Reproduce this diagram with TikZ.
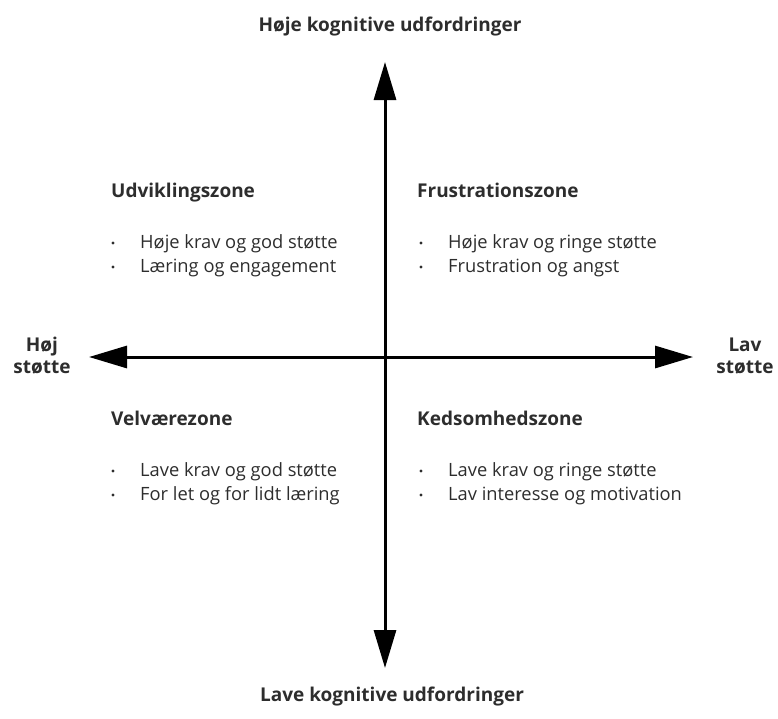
\documentclass[tikz,border=0pt]{standalone}
\usepackage{fontspec}
\setmainfont{Open Sans}
\usetikzlibrary{arrows.meta,positioning}
\definecolor{zonetext}{RGB}{45,45,45}
\tikzset{
  axisarrow/.style={-{Triangle[length=38pt,width=22pt]}, line width=3pt, black},
  axislabel/.style={font=\fontsize{19}{22}\selectfont\bfseries, text=zonetext, inner sep=0pt},
  sidelabel/.style={axislabel, align=center},
  zonehead/.style={font=\fontsize{19}{22}\selectfont\bfseries, text=zonetext,
                   anchor=base west, inner sep=0pt},
  zoneitem/.style={font=\fontsize{18.3}{21}\selectfont, text=zonetext,
                   anchor=base west, inner sep=0pt},
  zonedot/.style={circle, fill=zonetext, minimum size=3.2pt, inner sep=0pt},
}

\begin{document}
\begin{tikzpicture}[x=1pt, y=-1pt]
\useasboundingbox (0,0) rectangle (778,718);
% axes
\coordinate (O) at (385,357);
\coordinate (tipN) at (385,62);
\coordinate (tipS) at (385,668);
\coordinate (tipW) at (89,357);
\coordinate (tipE) at (693,357);
\draw[axisarrow] (O) -- (tipN);
\draw[axisarrow] (O) -- (tipS);
\draw[axisarrow] (O) -- (tipW);
\draw[axisarrow] (O) -- (tipE);
% axis labels
\node[axislabel, anchor=base] (high) at (390,31) {Høje kognitive udfordringer};
\node[axislabel, anchor=base] (low) at (392,701) {Lave kognitive udfordringer};
\node[sidelabel] (hsupport) at (42,356) {Høj\\støtte};
\node[sidelabel] (lsupport) at (745,356) {Lav\\støtte};
% zones
\node[zonehead] (devzone) at (111,197) {Udviklingszone};
\node[zonehead] (frzone) at (417,197) {Frustrationszone};
\node[zonehead] (wbzone) at (111,425) {Velværezone};
\node[zonehead] (bdzone) at (417,425) {Kedsomhedszone};
\foreach \x/\y/\txt [count=\i] in {
    113/248/Høje krav og god støtte,
    113/272/Læring og engagement,
    421/248/Høje krav og ringe støtte,
    421/272/Frustration og angst,
    113/476/Lave krav og god støtte,
    113/500/For let og for lidt læring,
    421/476/Lave krav og ringe støtte,
    421/500/Lav interesse og motivation} {
  \node[zonedot] (dot\i) at (\x,\y-5) {};
  \node[zoneitem] (item\i) at (\x+27,\y) {\txt};
}
\end{tikzpicture}
\end{document}
